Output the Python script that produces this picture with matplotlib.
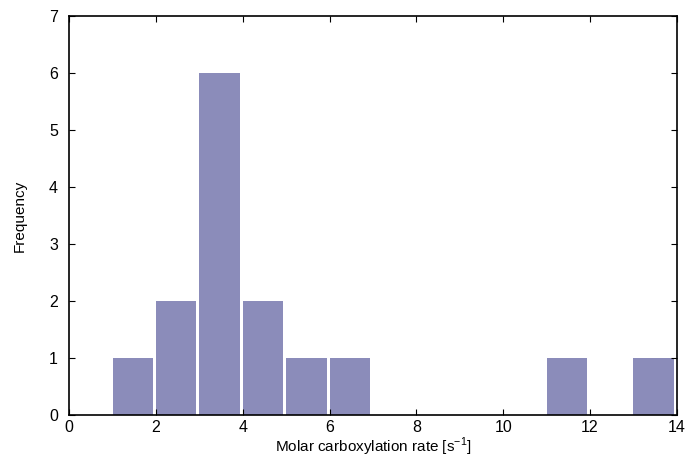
import matplotlib
matplotlib.use("Agg")
import matplotlib.pyplot as plt

# histogram bins (left edges) and counts
bin_left = [1, 2, 3, 4, 5, 6, 7, 8, 9, 10, 11, 12, 13]
counts = [1, 2, 6, 2, 1, 1, 0, 0, 0, 0, 1, 0, 1]
x_ticks = [0, 2, 4, 6, 8, 10, 12, 14]
y_ticks = [0, 1, 2, 3, 4, 5, 6, 7]

plt.rcParams["font.family"] = ["Liberation Sans", "DejaVu Sans"]

fig, ax = plt.subplots(figsize=(6.92, 4.72), dpi=100)
fig.subplots_adjust(left=0.1, right=0.978, top=0.966, bottom=0.121)

ax.bar(bin_left, counts, width=0.93, align="edge", color="#8b8cba", linewidth=0)

ax.set_xlim(0, 14)
ax.set_ylim(0, 7)
ax.set_xticks(x_ticks)
ax.set_yticks(y_ticks)
ax.tick_params(direction="in", top=True, right=True, length=4, width=0.8,
               labelsize=11.5)
ax.tick_params(axis="x", pad=4)
ax.tick_params(axis="y", pad=8)
for s in ax.spines.values():
    s.set_linewidth(1.2)

ax.set_xlabel(r"Molar carboxylation rate [s$^{\mathregular{-1}}$]", fontsize=11, labelpad=0)
ax.set_ylabel("Frequency", fontsize=11, labelpad=16)

fig.savefig("out.png", dpi=100)
